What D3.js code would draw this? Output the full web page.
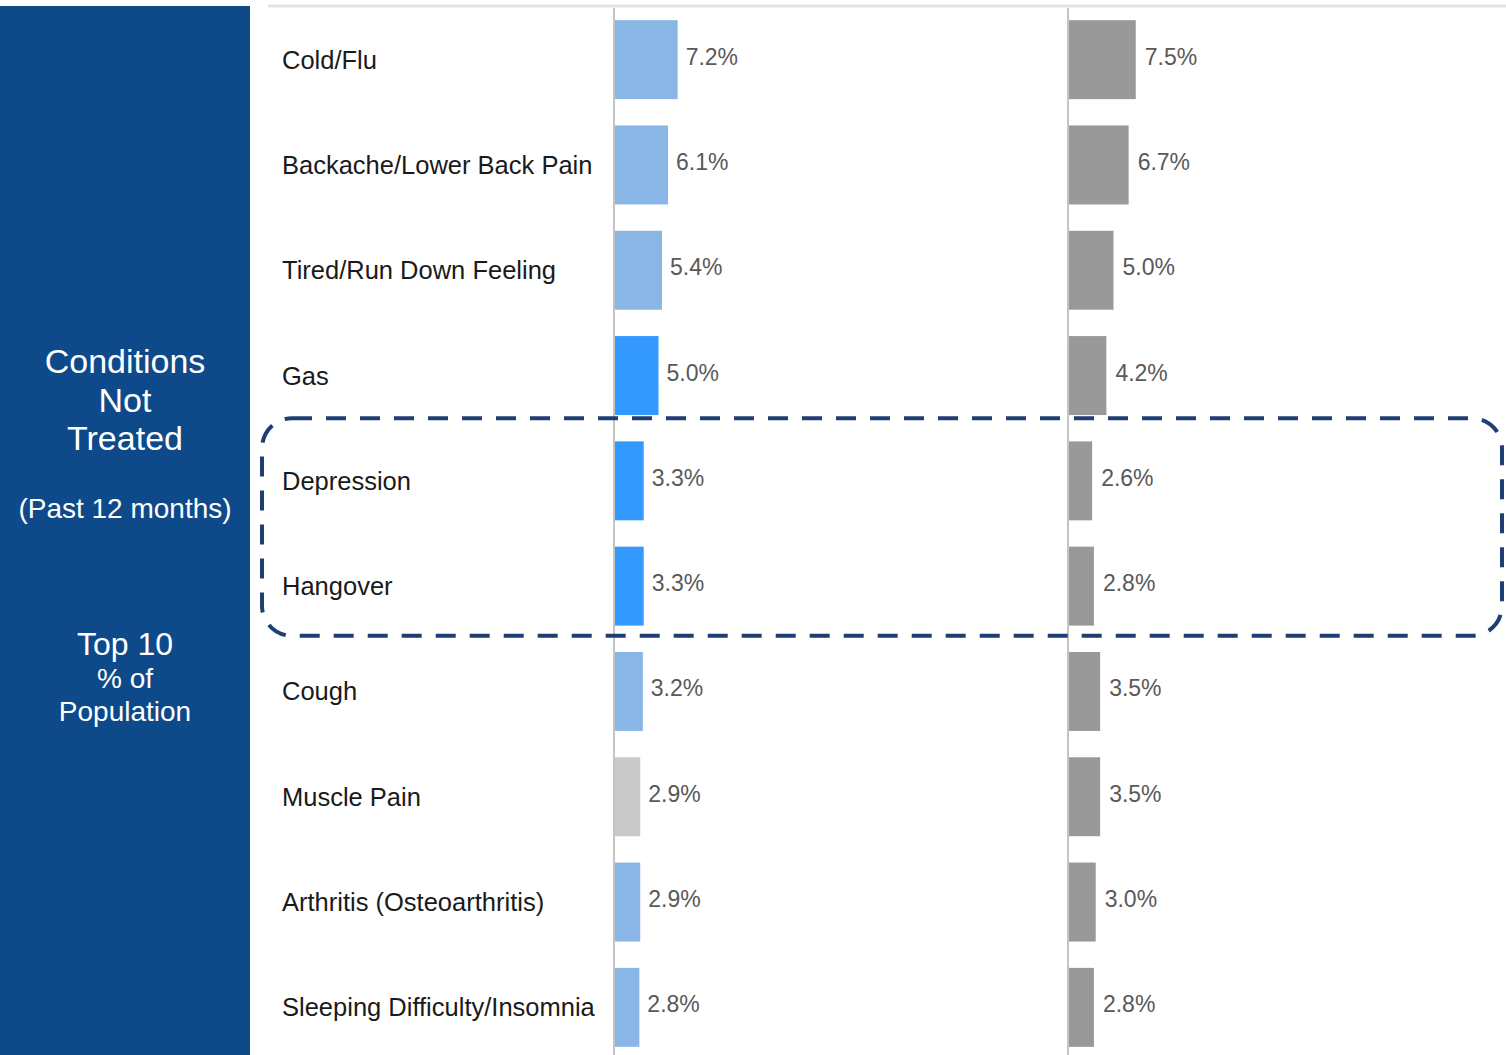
<!DOCTYPE html>
<html>
<head>
<meta charset="utf-8">
<script src="https://cdn.jsdelivr.net/npm/d3@7"></script>
<style>
  html, body { margin: 0; padding: 0; background: #fff; }
  svg { display: block; font-family: "Liberation Sans", Arial, sans-serif; }
</style>
</head>
<body>
<div id="canvas"></div>
<script>
const categories = [
  "Cold/Flu",
  "Backache/Lower Back Pain",
  "Tired/Run Down Feeling",
  "Gas",
  "Depression",
  "Hangover",
  "Cough",
  "Muscle Pain",
  "Arthritis (Osteoarthritis)",
  "Sleeping Difficulty/Insomnia"
];
const leftValues = [7.2, 6.1, 5.4, 5.0, 3.3, 3.3, 3.2, 2.9, 2.9, 2.8];
const rightValues = [7.5, 6.7, 5.0, 4.2, 2.6, 2.8, 3.5, 3.5, 3.0, 2.8];
const highlighted = ["Gas", "Depression", "Hangover"];
const greyed = ["Muscle Pain"];
const boxed = ["Depression", "Hangover"];

const w = 1506;
const h = 1055;

const svg = d3.select("#canvas")
  .append("svg")
  .attr("width", w)
  .attr("height", h);

// side panel
svg.append("rect")
  .attr("x", 0).attr("y", 6)
  .attr("width", 250).attr("height", h - 6)
  .attr("fill", "#0e4a8a");

const panelLines = [
  { t: "Conditions", y: 373, s: 34 },
  { t: "Not", y: 412, s: 34 },
  { t: "Treated", y: 450, s: 34 },
  { t: "(Past 12 months)", y: 518, s: 28 },
  { t: "Top 10", y: 655, s: 32 },
  { t: "% of", y: 688, s: 28 },
  { t: "Population", y: 721, s: 28 }
];
svg.append("g").selectAll("text")
  .data(panelLines)
  .enter().append("text")
    .attr("x", 125)
    .attr("y", d => d.y)
    .attr("text-anchor", "middle")
    .attr("fill", "#fff")
    .style("font-size", d => d.s + "px")
    .text(d => d.t);

// top rule
svg.append("line")
  .attr("x1", 268).attr("x2", w)
  .attr("y1", 6).attr("y2", 6)
  .attr("stroke", "#e4e4e4")
  .attr("stroke-width", 3);

const y = d3.scaleBand()
  .domain(categories)
  .range([7, 1060])
  .paddingInner(0.25)
  .paddingOuter(0.125);

const xLeft = d3.scaleLinear().domain([0, 10]).range([615, 702]);
const xRight = d3.scaleLinear().domain([0, 10]).range([1069, 1158]);

function leftColor(c) {
  if (highlighted.includes(c)) return "#3399ff";
  if (greyed.includes(c)) return "#c9c9c9";
  return "#8ab6e6";
}

// category labels
svg.append("g").selectAll("text")
  .data(categories)
  .enter().append("text")
    .attr("x", 282)
    .attr("y", d => y(d) + y.bandwidth() / 2 + 9)
    .attr("fill", "#1a1a1a")
    .style("font-size", "25.5px")
    .text(d => d);

function drawSeries(values, x, color, gap) {
  const g = svg.append("g");
  g.selectAll("rect")
    .data(categories)
    .enter().append("rect")
      .attr("x", x(0))
      .attr("y", d => y(d))
      .attr("width", (d, i) => x(values[i]) - x(0))
      .attr("height", y.bandwidth())
      .attr("fill", d => color(d));
  g.selectAll("text")
    .data(categories)
    .enter().append("text")
      .attr("x", (d, i) => x(values[i]) + gap)
      .attr("y", d => y(d) + y.bandwidth() / 2 + 5)
      .attr("fill", "#595959")
      .style("font-size", "23px")
      .text((d, i) => d3.format(".1f")(values[i]) + "%");
  // axis line
  g.append("line")
    .attr("x1", x(0) - 1).attr("x2", x(0) - 1)
    .attr("y1", 8).attr("y2", h)
    .attr("stroke", "#c4c4c4")
    .attr("stroke-width", 2);
}

drawSeries(leftValues, xLeft, leftColor, 8);
drawSeries(rightValues, xRight, () => "#999999", 9);

// dashed highlight box around the boxed rows
const halfGap = (y.step() - y.bandwidth()) / 2;
const boxTop = y(boxed[0]) - halfGap - 10;
const boxBottom = y(boxed[boxed.length - 1]) + y.bandwidth() + halfGap - 3;
svg.append("rect")
  .attr("x", 262)
  .attr("y", boxTop)
  .attr("width", 1502 - 262)
  .attr("height", boxBottom - boxTop)
  .attr("rx", 30).attr("ry", 30)
  .attr("fill", "none")
  .attr("stroke", "#1f3f73")
  .attr("stroke-width", 4)
  .attr("stroke-dasharray", "20 14");
</script>
</body>
</html>
